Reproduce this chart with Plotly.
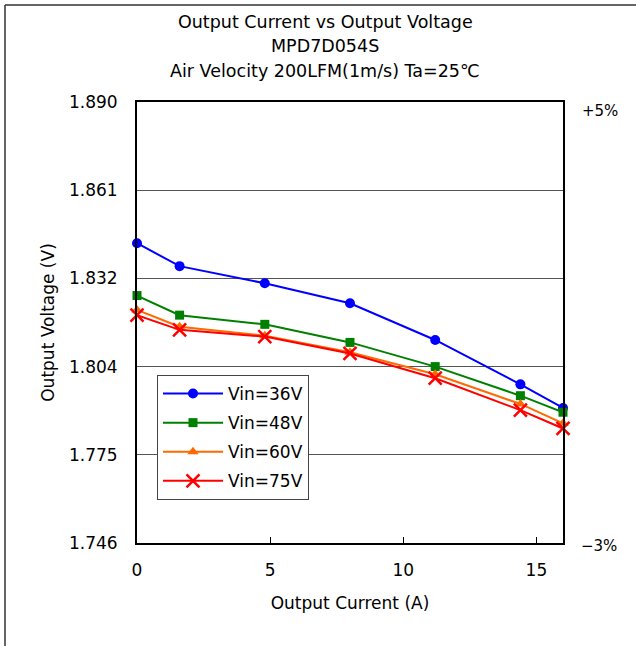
import plotly.graph_objects as go

current = [0, 1.6, 4.8, 8.0, 11.2, 14.4, 16.0]
v36 = [1.8439, 1.8364, 1.8308, 1.8243, 1.8123, 1.7978, 1.7901]
v48 = [1.8268, 1.8204, 1.8174, 1.8115, 1.8036, 1.7941, 1.7887]
v60 = [1.8221, 1.8166, 1.8137, 1.8083, 1.8011, 1.7914, 1.7851]
v75 = [1.8204, 1.8156, 1.8134, 1.8079, 1.7998, 1.7894, 1.7834]

y_tickvals = [1.746, 1.7748, 1.8036, 1.8324, 1.8612, 1.890]
y_ticktext = ["1.746", "1.775", "1.804", "1.832", "1.861", "1.890"]
x_tickvals = [0, 5, 10, 15]

FONT = "DejaVu Sans, sans-serif"
L, T, R, B = 137, 102, 563, 543  # plot area in screen px
PW, PH = R - L, B - T


def px(xs):
    return (xs - L) / PW


def py(ys):
    return (B - ys) / PH


fig = go.Figure()
series = [
    ("Vin=36V", v36, "#0000FF", "circle", 10),
    ("Vin=48V", v48, "#008000", "square", 9),
    ("Vin=60V", v60, "#FF6A00", "triangle-up", 10),
    ("Vin=75V", v75, "#FF0000", "x-thin-open", 13),
]
for name, vals, col, sym, sz in series:
    fig.add_trace(go.Scatter(
        x=current, y=vals, name=name, mode="lines+markers", legendgroup=name,
        line=dict(color=col, width=2),
        marker=dict(color=col, symbol=sym, size=sz, line=dict(color=col, width=2.5 if "x" in sym else 0)),
        cliponaxis=False, hoverinfo="skip",
    ))

fig.update_layout(
    width=636, height=646,
    margin=dict(l=L, r=636 - R, t=T, b=646 - B),
    paper_bgcolor="white", plot_bgcolor="white",
    font=dict(family=FONT, size=17, color="black"),
    showlegend=True,
    legend=dict(x=px(157), y=py(375), xanchor="left", yanchor="top",
                bgcolor="white", bordercolor="#444", borderwidth=1,
                font=dict(size=17, family=FONT), tracegroupgap=4,
                itemwidth=60),
    xaxis=dict(range=[0, 16], tickvals=x_tickvals, ticks="inside", ticklen=6,
               tickcolor="black", showgrid=False, zeroline=False,
               showline=True, linecolor="black", linewidth=2, mirror=True,
               tickfont=dict(size=17), ticklabelstandoff=11,
               title=dict(text="Output Current (A)", font=dict(size=17), standoff=18)),
    yaxis=dict(range=[1.746, 1.890], tickvals=y_tickvals, ticktext=y_ticktext,
               ticks="", showgrid=True, gridcolor="#555", gridwidth=1, zeroline=False,
               showline=True, linecolor="black", linewidth=2, mirror=True,
               tickfont=dict(size=17), ticklabelstandoff=14,
               title=dict(text="Output Voltage (V)", font=dict(size=17), standoff=10)),
)

titles = ["Output Current vs Output Voltage", "MPD7D054S", "Air Velocity 200LFM(1m/s) Ta=25\u2103"]
ys = [22, 46, 71]
for t, yy in zip(titles, ys):
    fig.add_annotation(text=t, xref="paper", yref="paper",
                       x=px(325), y=py(yy),
                       xanchor="center", yanchor="middle", showarrow=False,
                       font=dict(size=17.5, family=FONT))

fig.add_annotation(text="+5%", xref="paper", yref="paper", x=1, y=py(111),
                   xanchor="left", yanchor="middle", xshift=17, showarrow=False,
                   font=dict(size=15, family=FONT))
fig.add_annotation(text="\u22123%", xref="paper", yref="paper", x=1, y=py(546),
                   xanchor="left", yanchor="middle", xshift=16, showarrow=False,
                   font=dict(size=15, family=FONT))

# outer frame
fig.add_shape(type="line", xref="paper", yref="paper",
              x0=px(5), x1=px(650), y0=py(5), y1=py(5),
              line=dict(color="#333", width=1.5))
fig.add_shape(type="line", xref="paper", yref="paper",
              x0=px(5), x1=px(5), y0=py(5), y1=py(660),
              line=dict(color="#333", width=1.5))

fig.write_html("out.html", config={"displayModeBar": False},
               post_script="document.body.style.margin='0px';")
